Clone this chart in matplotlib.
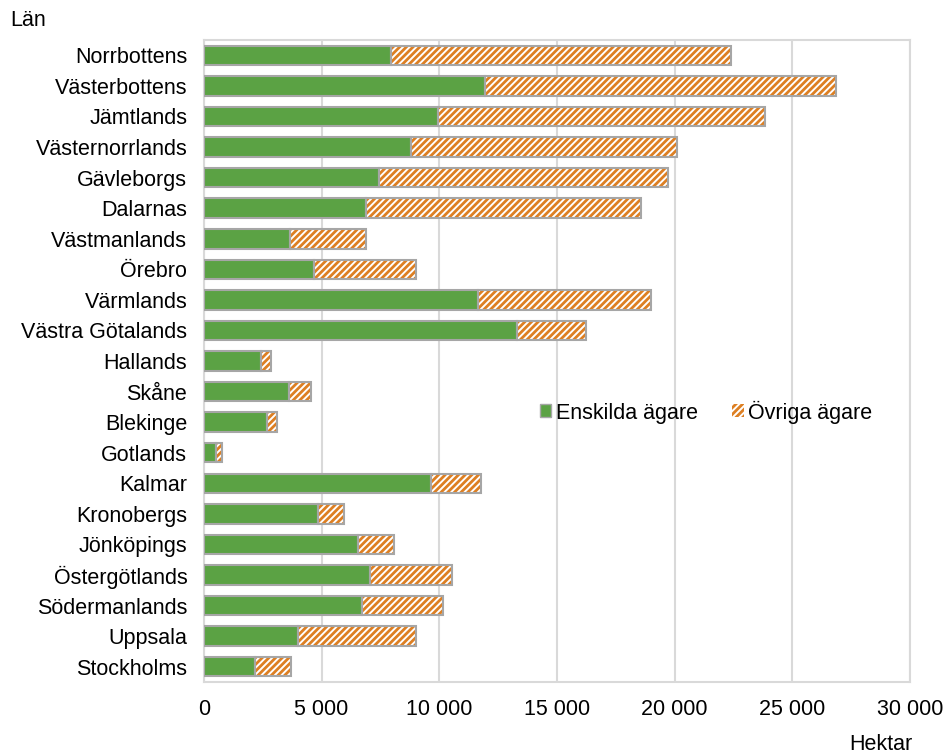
import matplotlib.pyplot as plt
import numpy as np
from matplotlib.ticker import MultipleLocator, FuncFormatter
from matplotlib.patches import Patch

plt.rcParams['font.family'] = ['Liberation Sans', 'DejaVu Sans']
plt.rcParams['hatch.linewidth'] = 2.0

lan = ["Norrbottens", "Västerbottens", "Jämtlands", "Västernorrlands", "Gävleborgs",
       "Dalarnas", "Västmanlands", "Örebro", "Värmlands", "Västra Götalands",
       "Hallands", "Skåne", "Blekinge", "Gotlands", "Kalmar", "Kronobergs",
       "Jönköpings", "Östergötlands", "Södermanlands", "Uppsala", "Stockholms"]
enskilda = np.array([7950, 11940, 9950, 8800, 7440, 6880, 3650, 4680, 11650, 13300,
                     2420, 3610, 2680, 510, 9650, 4850, 6550, 7060, 6720, 4000, 2170])
totalt = np.array([22400, 26860, 23840, 20100, 19720, 18570, 6880, 9010, 19000, 16240,
                   2850, 4550, 3100, 770, 11770, 5950, 8080, 10540, 10160, 9010, 3700])
ovriga = totalt - enskilda

green = '#5ba244'
orange = '#dd7f22'
edge = '#a6a6a6'
fs = 15.5

fig = plt.figure(figsize=(9.46, 7.55), dpi=100)
ax = fig.add_axes([0.2156, 0.0967, 0.7463, 0.8503])

y = np.arange(len(lan))
h = 0.64
ax.barh(y, enskilda, height=h, color=green, edgecolor=edge, linewidth=1.5, zorder=3)
ax.barh(y, ovriga, left=enskilda, height=h, color='white', edgecolor=orange,
        hatch='/////', linewidth=0, zorder=3)
ax.barh(y, ovriga, left=enskilda, height=h, color='none', edgecolor=edge,
        linewidth=1.5, zorder=4)

ax.set_ylim(len(lan) - 0.5, -0.5)
ax.set_yticks(y)
ax.set_yticklabels(lan, fontsize=fs)
ax.set_xlim(0, 30000)
ax.xaxis.set_major_locator(MultipleLocator(5000))
ax.xaxis.set_major_formatter(FuncFormatter(lambda v, p: f"{int(v):,}".replace(",", " ")))
ax.tick_params(axis='x', labelsize=fs, length=0, pad=12)
ax.tick_params(axis='y', length=0, pad=12)
ax.grid(axis='x', color='#d9d9d9', linewidth=1.5, zorder=0)
for s in ax.spines.values():
    s.set_color('#d9d9d9')
    s.set_linewidth(1.5)

fig.text(10 / 946, 1 - 20 / 755, "Län", fontsize=fs, va='center', ha='left')
fig.text(912 / 946, 1 - 744 / 755, "Hektar", fontsize=fs, va='center', ha='right')

handles = [Patch(facecolor=green, edgecolor=edge, linewidth=1),
           Patch(facecolor='white', edgecolor=orange, hatch='/////', linewidth=0)]
ax.legend(handles, ["Enskilda ägare", "Övriga ägare"], loc='center',
          bbox_to_anchor=(706 / 946, 1 - 412 / 755), bbox_transform=fig.transFigure,
          ncol=2, frameon=False, fontsize=fs, handlelength=0.55, handleheight=0.55,
          handletextpad=0.2, columnspacing=1.6)

plt.savefig('out.png', dpi=100)
